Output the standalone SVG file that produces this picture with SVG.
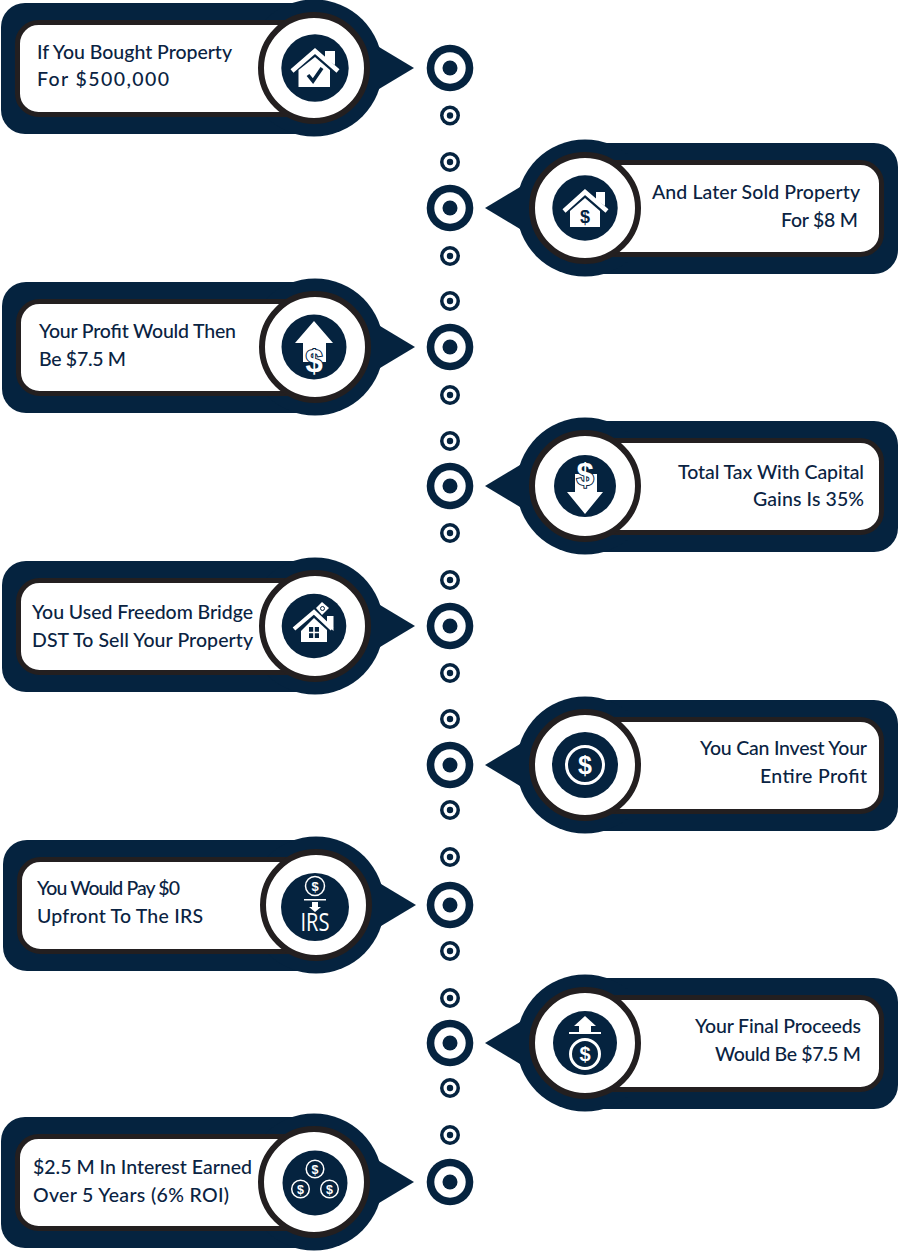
<svg xmlns="http://www.w3.org/2000/svg" width="920" height="1252" viewBox="0 0 920 1252">
<style>
  .navy{fill:#05233f}
  .white{fill:#fff}
  .ring{fill:#fff;stroke:#231f20;stroke-width:6}
  .panel{fill:#fff;stroke:#231f20;stroke-width:5}
  .label{font-family:Lato,"Liberation Sans",sans-serif;font-size:19.5px;font-weight:500;fill:#0a2342}
  .end{text-anchor:end}
  .usd{font-family:"Liberation Sans",Arial,sans-serif;font-weight:700;text-anchor:middle}
  .coin{fill:none;stroke:#fff;stroke-width:2.5}
</style>
<defs>
  <!-- callout pointing right; mirrored for the right-hand column -->
  <g id="bubble">
    <rect class="navy" x="-313" y="-65" width="345" height="131" rx="24"/>
    <circle class="navy" cx="0" cy="0" r="68.5"/>
    <path class="navy" d="M60,-24 L100,0 L60,24Z"/>
    <rect class="panel" x="-296.500" y="-45.500" width="300" height="92" rx="21"/>
    <circle class="ring" cx="0" cy="0" r="53"/>
  </g>
  <g id="big-dot">
    <circle class="navy" r="23.300"/><circle class="white" r="15.700"/><circle class="navy" r="7.500"/>
  </g>
  <g id="small-dot">
    <circle class="navy" r="10"/><circle class="white" r="6.500"/><circle class="navy" r="3.200"/>
  </g>
</defs>

<g id="connectors">
  <use href="#big-dot" x="450" y="68"/><use href="#big-dot" x="450" y="208"/><use href="#big-dot" x="450" y="347"/>
  <use href="#big-dot" x="450" y="486"/><use href="#big-dot" x="450" y="626"/><use href="#big-dot" x="450" y="765"/>
  <use href="#big-dot" x="450" y="905"/><use href="#big-dot" x="450" y="1043"/><use href="#big-dot" x="450" y="1182"/>
  <use href="#small-dot" x="450" y="115.500"/><use href="#small-dot" x="450" y="162"/>
  <use href="#small-dot" x="450" y="256"/><use href="#small-dot" x="450" y="301"/>
  <use href="#small-dot" x="450" y="395"/><use href="#small-dot" x="450" y="441"/>
  <use href="#small-dot" x="450" y="533"/><use href="#small-dot" x="450" y="580"/>
  <use href="#small-dot" x="450" y="673"/><use href="#small-dot" x="450" y="719"/>
  <use href="#small-dot" x="450" y="810"/><use href="#small-dot" x="450" y="857"/>
  <use href="#small-dot" x="450" y="951"/><use href="#small-dot" x="450" y="998"/>
  <use href="#small-dot" x="450" y="1088"/><use href="#small-dot" x="450" y="1135"/>
</g>

<g id="node-bought">
  <use href="#bubble" transform="translate(314,68)"/>
  <text class="label" x="37" y="58.500" textLength="195">If You Bought Property</text>
  <text class="label" x="37" y="85.500" textLength="132">For $500,000</text>
  <g transform="translate(315,68)">
    <circle class="navy" r="33.700"/>
    <path class="white" d="M10,-17H20V-3L10,-9Z"/>
    <path class="white" d="M-16.500,2L0,-11L15,2V19H-16.500Z"/>
    <path d="M-23,3L0,-17L23,3" fill="none" stroke="#fff" stroke-width="4.500"/>
    <path d="M-7,7L-2,13L7,0" fill="none" stroke="#05233f" stroke-width="3.500"/>
  </g>
</g>

<g id="node-sold">
  <use href="#bubble" transform="translate(585,208) scale(-1,1)"/>
  <text class="label end" x="860" y="198.500" textLength="208">And Later Sold Property</text>
  <text class="label end" x="858" y="226.500" textLength="77">For $8 M</text>
  <g transform="translate(585,208)">
    <circle class="navy" r="32.700"/>
    <path class="white" d="M11,-16H20V-2L11,-8Z"/>
    <path class="white" d="M-15,3L0,-10L15,3V19H-15Z"/>
    <path d="M-21,3L0,-16L22,3" fill="none" stroke="#fff" stroke-width="4.500"/>
    <text class="usd navy" x="0" y="15" font-size="18">$</text>
  </g>
</g>

<g id="node-profit">
  <use href="#bubble" transform="translate(315,347)"/>
  <text class="label" x="39" y="337.500" textLength="197">Your Profit Would Then</text>
  <text class="label" x="39" y="365.500" textLength="87">Be $7.5 M</text>
  <g transform="translate(314,347)">
    <circle class="navy" r="32.500"/>
    <path class="white" d="M0,-26L19,-4H12V15H-11V-4H-19Z"/>
    <text class="usd white" x="0" y="25" font-size="31" stroke="#05233f" stroke-width="2" paint-order="stroke">$</text>
  </g>
</g>

<g id="node-tax">
  <use href="#bubble" transform="translate(585,486) scale(-1,1)"/>
  <text class="label end" x="864" y="478.500" textLength="186">Total Tax With Capital</text>
  <text class="label end" x="864" y="505.500" textLength="111">Gains Is 35%</text>
  <g transform="translate(585,486)">
    <circle class="navy" r="31"/>
    <path class="white" d="M0,28L18,6H12V-12H-10V6H-18Z"/>
    <text class="usd white" x="0" y="-1" font-size="31" stroke="#05233f" stroke-width="2" paint-order="stroke">$</text>
  </g>
</g>

<g id="node-dst">
  <use href="#bubble" transform="translate(315,626)"/>
  <text class="label" x="32" y="618.500" textLength="221">You Used Freedom Bridge</text>
  <text class="label" x="32" y="646.500" textLength="221">DST To Sell Your Property</text>
  <g transform="translate(314,626)">
    <circle class="navy" r="32.300"/>
    <path class="white" d="M13,-10H19.500V5L13,-1Z"/>
    <path class="white" d="M-13,5L0,-8L13,4V16H-13Z"/>
    <path d="M-20,3L0,-14L18,3" fill="none" stroke="#fff" stroke-width="4"/>
    <path class="navy" d="M-5,1H-.8V5.800H-5ZM.8,1H5V5.800H.8ZM-5,7.200H-.8V12H-5ZM.8,7.200H5V12H.8Z"/>
    <path class="white" d="M8,-24L15,-18L8,-11L2,-18Z"/>
    <circle class="coin" cx="8.500" cy="-17.500" r="2" style="stroke:#05233f;stroke-width:1"/>
  </g>
</g>

<g id="node-invest">
  <use href="#bubble" transform="translate(585,765) scale(-1,1)"/>
  <text class="label end" x="867" y="754.500" textLength="167">You Can Invest Your</text>
  <text class="label end" x="867" y="782.500" textLength="107">Entire Profit</text>
  <g transform="translate(585,765)">
    <circle class="navy" r="33"/>
    <circle class="coin" r="18.500" style="stroke-width:3"/>
    <text class="usd white" x="0" y="9" font-size="25">$</text>
  </g>
</g>

<g id="node-irs">
  <use href="#bubble" transform="translate(316,905)"/>
  <text class="label" x="37" y="894.500" textLength="143">You Would Pay $0</text>
  <text class="label" x="37" y="922.500" textLength="166">Upfront To The IRS</text>
  <g transform="translate(315,907)">
    <circle class="navy" r="34"/>
    <circle class="coin" cy="-21" r="9.500" style="stroke-width:1.500"/>
    <text class="usd white" x="0" y="-16" font-size="13">$</text>
    <path class="white" d="M-11,-8H11V-6.500H-11ZM-3,-5H3V0H6L0,5L-6,0H-3Z"/>
    <text x="0" y="24" font-family="Open Sans,Liberation Sans,sans-serif" font-size="25" fill="#fff" text-anchor="middle" textLength="29" lengthAdjust="spacingAndGlyphs">IRS</text>
  </g>
</g>

<g id="node-proceeds">
  <use href="#bubble" transform="translate(585,1043) scale(-1,1)"/>
  <text class="label end" x="861" y="1032.500" textLength="166">Your Final Proceeds</text>
  <text class="label end" x="861" y="1060.500" textLength="146">Would Be $7.5 M</text>
  <g transform="translate(585,1043)">
    <circle class="navy" r="32"/>
    <path class="white" d="M0,-27L11,-17H6V-11H-6V-17H-11ZM-16,-11H16V-9H-16Z"/>
    <circle class="coin" cy="11" r="14.500" style="stroke-width:3"/>
    <text class="usd white" x="0" y="18" font-size="20">$</text>
  </g>
</g>

<g id="node-interest">
  <use href="#bubble" transform="translate(314,1182)"/>
  <text class="label" x="33" y="1173.500" textLength="219">$2.5 M In Interest Earned</text>
  <text class="label" x="33" y="1201.500" textLength="196">Over 5 Years (6% ROI)</text>
  <g transform="translate(315,1183)">
    <circle class="navy" r="32.500"/>
    <circle class="coin" cy="-14" r="8.800" style="stroke-width:1.500"/>
    <circle class="coin" cx="-14.500" cy="6" r="8.800" style="stroke-width:1.500"/>
    <circle class="coin" cx="14.500" cy="6" r="8.800" style="stroke-width:1.500"/>
    <text class="usd white" x="0" y="-9.500" font-size="12.500">$</text>
    <text class="usd white" x="-14.500" y="10.500" font-size="12.500">$</text>
    <text class="usd white" x="14.500" y="10.500" font-size="12.500">$</text>
  </g>
</g>
</svg>
